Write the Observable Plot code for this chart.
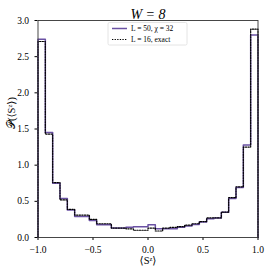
<!DOCTYPE html>
<html><head><meta charset="utf-8">
<script src="https://cdn.jsdelivr.net/npm/d3@7"></script>
<script src="https://cdn.jsdelivr.net/npm/@observablehq/plot@0.6"></script>
<style>body{margin:0;background:#fff}</style>
</head><body><div id="chart"></div>
<script>
const nBins = 30;
const binEdges = d3.range(nBins + 1).map(k => -1 + 2 * k / nBins);
const mpsValues = [2.74,1.45,0.75,0.54,0.38,0.29,0.29,0.235,0.175,0.175,0.13,0.13,0.14,0.15,0.15,0.175,0.12,0.12,0.12,0.14,0.16,0.18,0.215,0.26,0.27,0.35,0.54,0.69,1.28,2.80];
const exactValues = [2.71,1.43,0.76,0.52,0.39,0.31,0.31,0.25,0.19,0.19,0.13,0.13,0.12,0.10,0.10,0.13,0.09,0.13,0.14,0.15,0.17,0.19,0.22,0.27,0.27,0.35,0.55,0.70,1.25,2.88];
const xTicks = [-1, -0.5, 0, 0.5, 1];
const yTicks = [0, 0.5, 1, 1.5, 2, 2.5, 3];
const seriesNames = ["L = 50, χ = 32", "L = 16, exact"];
const purple = "#6a51a3";

function stepPoints(vals) {
  const pts = [{x: binEdges[0], y: 0}];
  vals.forEach((v, i) => pts.push({x: binEdges[i], y: v}));
  pts.push({x: binEdges[nBins], y: vals[nBins - 1]});
  pts.push({x: binEdges[nBins], y: 0});
  return pts;
}
const serif = "'Liberation Serif', 'DejaVu Serif', serif";
const fmt = d3.format(".1f");

const plot = Plot.plot({
  width: 270, height: 272,
  marginLeft: 37.5, marginRight: 12.5, marginTop: 20, marginBottom: 35,
  style: {fontFamily: serif, fontSize: "9.5px", background: "#fff"},
  x: {domain: [-1, 1], ticks: xTicks, tickFormat: fmt, tickSize: 3, label: null},
  y: {domain: [0, 3], ticks: yTicks, tickFormat: fmt, tickSize: 3, label: null},
  marks: [
    Plot.line(stepPoints(mpsValues), {x: "x", y: "y", curve: "step-after", stroke: purple, strokeWidth: 1.5}),
    Plot.line(stepPoints(exactValues), {x: "x", y: "y", curve: "step-after", stroke: "#000", strokeWidth: 1.2, strokeDasharray: "1.3,1.3"}),
    Plot.frame({stroke: "#333", strokeWidth: 0.9}),
    Plot.text(["W = 8"], {frameAnchor: "top", dy: -11, fontSize: 14, fontStyle: "italic", fontFamily: serif}),
    Plot.text(["⟨Sᶻ⟩"], {frameAnchor: "bottom", dy: 26, fontSize: 10.5, fontFamily: serif}),
    Plot.text(["𝒫(⟨Sᶻ⟩)"], {frameAnchor: "left", dx: -26, rotate: -90, fontSize: 10.5, fontFamily: serif})
  ]
});
document.getElementById("chart").append(plot);

const svg = d3.select(plot);
const lg = svg.append("g").attr("font-family", serif).attr("font-size", 7.5).attr("text-anchor", "start");
lg.append("rect").attr("x", 108).attr("y", 22.5).attr("width", 79).attr("height", 22.5)
  .attr("rx", 1.5).attr("fill", "#fff").attr("fill-opacity", 0.85).attr("stroke", "#ddd").attr("stroke-width", 0.8);
lg.append("line").attr("x1", 112).attr("x2", 127).attr("y1", 28.5).attr("y2", 28.5).attr("stroke", purple).attr("stroke-width", 1.5);
lg.append("line").attr("x1", 112).attr("x2", 127).attr("y1", 39.5).attr("y2", 39.5).attr("stroke", "#000").attr("stroke-width", 1.2).attr("stroke-dasharray", "1.3,1.3");
lg.append("text").attr("x", 131).attr("y", 31.2).attr("text-anchor", "start").text(seriesNames[0]);
lg.append("text").attr("x", 131).attr("y", 42.2).attr("text-anchor", "start").text(seriesNames[1]);
</script></body></html>
